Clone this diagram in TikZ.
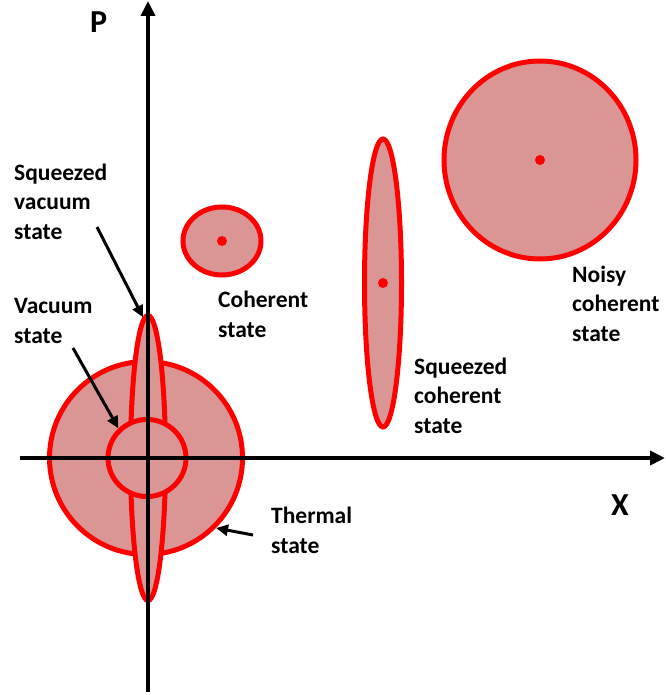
\documentclass[tikz,border=0pt]{standalone}
\usepackage{fontspec}
\setmainfont{Carlito}
\usetikzlibrary{positioning,arrows.meta,shapes.geometric}
\definecolor{blobfill}{RGB}{217,150,148}

\begin{document}
\begin{tikzpicture}[
  x=1pt, y=-1pt,
  blob/.style={draw=red, fill=blobfill, line width=5pt, ellipse, inner sep=0pt},
  lbl/.style={font=\fontsize{23.5}{29.5}\selectfont\bfseries, align=left, inner sep=0pt, anchor=base west},
  axlbl/.style={font=\fontsize{32}{36}\selectfont\bfseries, inner sep=0pt, anchor=base west},
  axis/.style={line width=4pt, -{Triangle[length=15pt,width=14pt]}},
  pointer/.style={line width=3pt, -{Triangle[length=12pt,width=11pt]}}
]
\useasboundingbox (0,0) rectangle (665,695);
\node[blob, minimum width=193pt, minimum height=193pt] (therm) at (146,458) {};
\node[blob, minimum width=35pt, minimum height=285pt] (svac) at (148,458) {};
\node[blob, minimum width=78pt, minimum height=77pt] (vac) at (147,458) {};
\node[blob, minimum width=78pt, minimum height=68pt] (coh) at (222,241) {};
\node[blob, minimum width=37pt, minimum height=288pt] (scoh) at (383,283) {};
\node[blob, minimum width=192pt, minimum height=198pt] (ncoh) at (540,160) {};
\fill[red] (coh.center) circle (5pt);
\fill[red] (scoh.center) circle (5pt);
\fill[red] (ncoh.center) circle (5pt);

\coordinate (xl) at (20,458);
\coordinate (xr) at (665,458);
\coordinate (pb) at (148,692);
\coordinate (pt) at (148,1);
\draw[axis] (xl) -- (xr);
\draw[axis] (pb) -- (pt);
\node[axlbl] (plbl) at (90,33) {P};
\node[axlbl] (xlbl) at (611,515) {X};

\node[lbl] (svlbl) at (14,239) {Squeezed\\vacuum\\state};
\node[lbl] (vlbl) at (14,343) {Vacuum\\state};
\node[lbl] (clbl) at (218,337) {Coherent\\state};
\node[lbl] (sclbl) at (414,433) {Squeezed\\coherent\\state};
\node[lbl] (nclbl) at (572,341) {Noisy\\coherent\\state};
\node[lbl] (tlbl) at (271,553) {Thermal\\state};

\coordinate (svt) at (97,227);
\coordinate (vt) at (73,348);
\coordinate (tt) at (253,535);
\draw[pointer] (svt) -- (svac.92);
\draw[pointer] (vt) -- (vac.134);
\draw[pointer] (tt) -- (therm.-45);
\end{tikzpicture}
\end{document}
